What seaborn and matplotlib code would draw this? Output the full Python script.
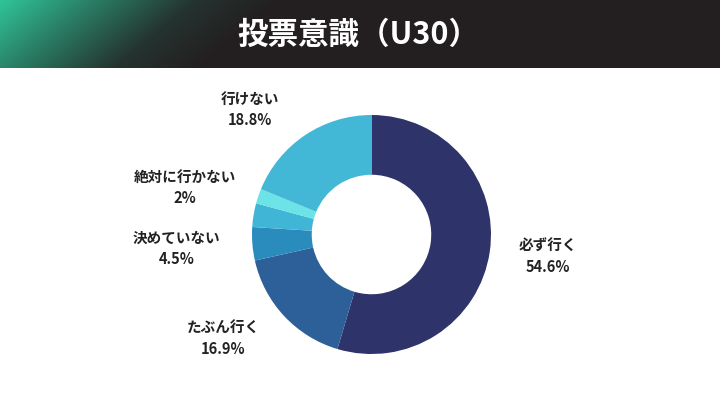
import numpy as np
import matplotlib
matplotlib.use("Agg")
import matplotlib.pyplot as plt
import seaborn as sns
from matplotlib.colors import LinearSegmentedColormap

sns.set_theme(style="white")
plt.rcParams['font.family'] = ['Noto Sans CJK JP', 'DejaVu Sans']

# Data
categories = ["必ず行く", "たぶん行く", "決めていない", "", "絶対に行かない", "行けない"]
values = [54.6, 16.9, 4.5, 3.2, 2.0, 18.8]
pct_labels = ["54.6%", "16.9%", "4.5%", "", "2%", "18.8%"]
colors = ["#2e3369", "#2d5f99", "#2a8bbd", "#41b5d6", "#6ce3e6", "#42b7d6"]

title = "投票意識（U30）"

# Layout (label centres in units of pie radius)
label_pos = [(1.48, -0.18), (-1.24, -0.87), (-1.63, -0.12), None, (-1.56, 0.39), (-1.02, 1.05)]

W, H = 720, 405
cx, cy, R = 371.5, 234.5, 119.5
fig = plt.figure(figsize=(W / 100, H / 100), dpi=100)
fig.patch.set_facecolor("white")

ax = fig.add_axes([0, 0, 1, 1])
ax.pie(values, colors=colors, startangle=90, counterclock=False, radius=1.0,
       wedgeprops=dict(width=0.5, edgecolor="none", linewidth=0))
ax.set_aspect("auto")
ax.set_xlim(-cx / R, (W - cx) / R)
ax.set_ylim(-(H - cy) / R, cy / R)
ax.axis("off")

for name, pct, pos in zip(categories, pct_labels, label_pos):
    if pos is None:
        continue
    ax.text(pos[0], pos[1], f"{name}\n{pct}", ha="center", va="center",
            fontsize=10.5, fontweight="bold", color="#222222", linespacing=1.4)

# Title bar with gradient
bar_h = 68
tax = fig.add_axes([0, 1 - bar_h / H, 1, bar_h / H])
xs = np.linspace(0, W, 720)
ys = np.linspace(0, bar_h, 68)
X, Y = np.meshgrid(xs, ys)
t = np.clip((X + Y * 1.2) / 280.0, 0, 1)
cmap = LinearSegmentedColormap.from_list(
    "g", [(0, "#30c498"), (0.35, "#2a7a62"), (0.7, "#253330"), (1, "#231f20")], N=256)
tax.imshow(t, cmap=cmap, aspect="auto", extent=[0, W, bar_h, 0], origin="upper")
tax.set_xlim(0, W)
tax.set_ylim(bar_h, 0)
tax.axis("off")
tax.text(W / 2 - 2, bar_h / 2 + 1, title, ha="center", va="center", color="white",
         fontsize=22, fontweight="bold")

fig.savefig("out.png", dpi=100, facecolor="white")
